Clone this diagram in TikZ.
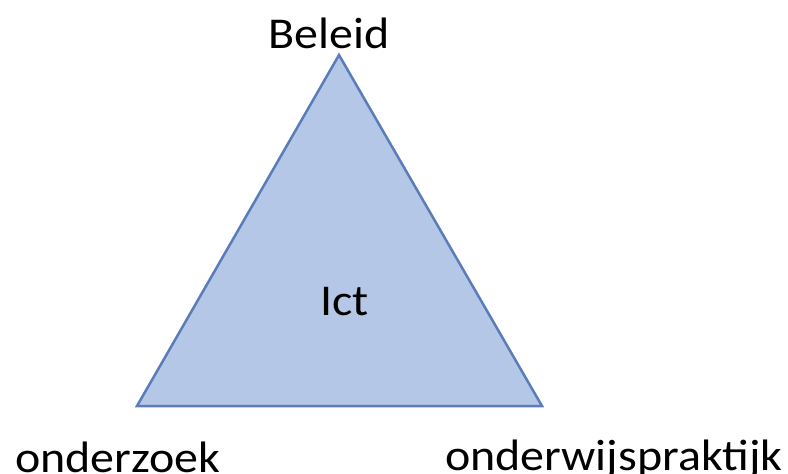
\documentclass[tikz,border=0pt]{standalone}
\usepackage{fontspec}
\setmainfont{Carlito}
\definecolor{trifill}{HTML}{B4C7E7}
\definecolor{triline}{HTML}{5A7CB8}
\tikzset{
  lbl/.style={inner sep=0pt, font=\fontsize{44}{44}\selectfont},
}
\newcommand{\wtext}[1]{\scalebox{1.09}[1]{#1}}
\begin{document}
\begin{tikzpicture}[x=1pt,y=-1pt]
\useasboundingbox (0,0) rectangle (788,474);
\coordinate (top) at (339,55);
\coordinate (bl) at (137,406);
\coordinate (br) at (542,406);
\draw[triline, fill=trifill, line width=2.5pt, line join=miter] (top) -- (bl) -- (br) -- cycle;
\node[lbl, anchor=base west] (beleid) at (268,48) {\wtext{Beleid}};
\node[lbl, anchor=base west] (ict) at (320,315) {\wtext{Ict}};
\node[lbl, anchor=base west] (onderzoek) at (15,472) {\wtext{onderzoek}};
\node[lbl, anchor=base west] (praktijk) at (445,470) {\wtext{onderwijspraktijk}};
\end{tikzpicture}
\end{document}
